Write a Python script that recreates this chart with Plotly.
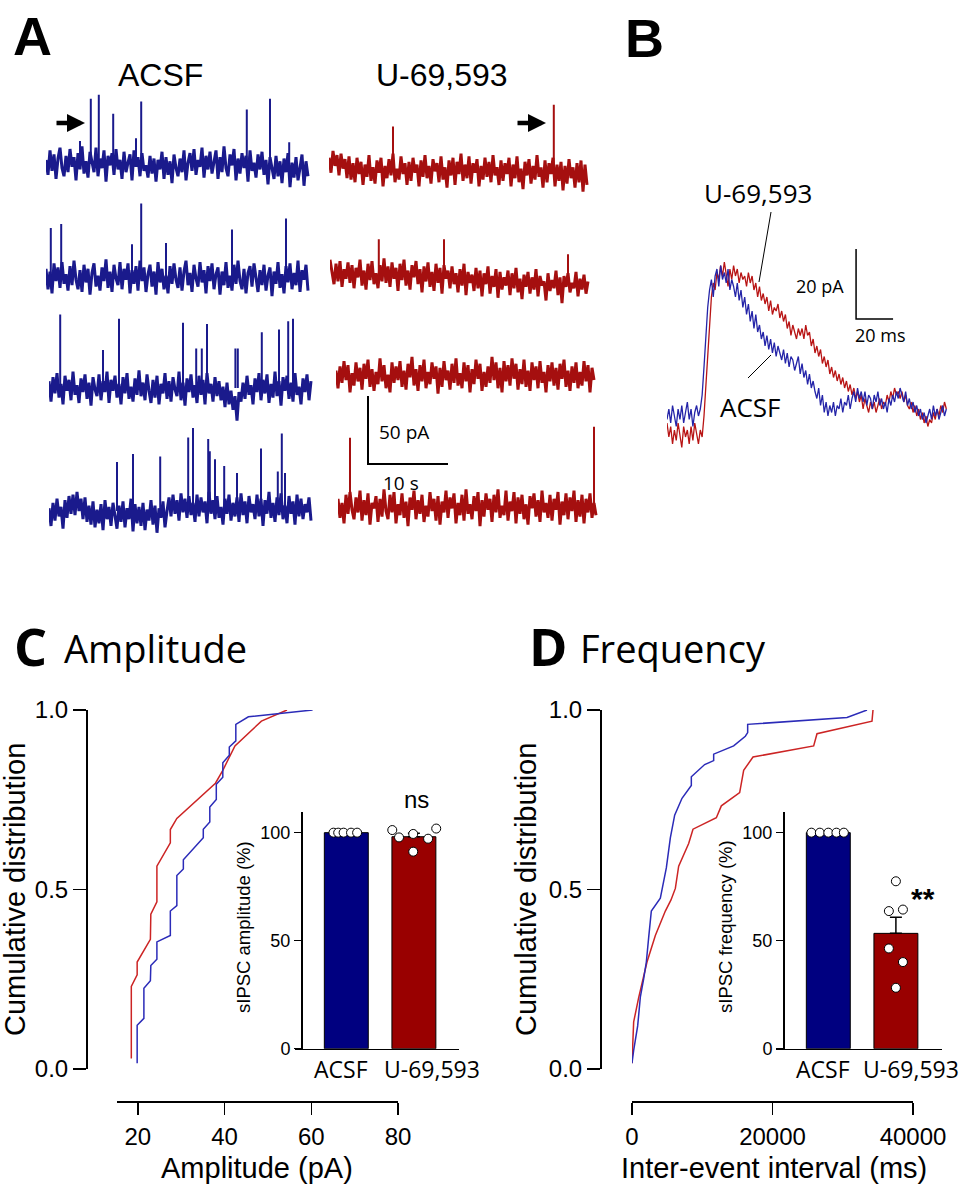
import numpy as np
import plotly.graph_objects as go

# ----------------------------------------------------------------- data
# Panel A: sIPSC recordings (pA), sampled every 0.25 s; spikes = (time s, amplitude pA)
acsf_trace1 = [3,-8,10,-5,7,-11,4,12,-3,-9,6,-6,
               11,-2,5,-12,8,-4,13,-7,2,-10,9,0,
               -6,12,-9,4,-3,10,-13,6,-1,8,-8,11,
               -4,3,-11,9,-6,1,7,-12,10,-2,5,-9,
               8,-5,-1,-10,6,-7,4,-13,3,-4,9,-11,
               5,-8,2,-14,7,-3,-9,4,-6,10,-12,1,
               8,-5,11,-8,3,-2,12,-10,6,-4,9,-7,
               2,10,-11,5,-6,13,-3,-9,7,-1,11,-12,
               4,-7,8,-3,6,-13,10,-5,1,-10,7,-4,
               9,-8,3,-15,5,-2,-11,6,-9,2,-14,4,
               -6,8,-17,1,-10,5,-12,-3,7,-16,2,-9]
acsf_spk1_t = [4.25, 5.6, 6.6, 8.4, 11.25, 11.9, 25.1, 28.0, 30.4]
acsf_spk1_a = [17, 48, 51, 37, 19, 46, 40, 48, 16]

u69_trace1 = [9,-2,14,3,11,-4,12,1,8,-6,
              10,-7,5,-9,9,-3,6,-11,4,-5,
              11,-8,2,-10,7,-2,9,-12,3,-6,
              8,-4,12,-9,1,-7,10,-3,5,-11,
              6,-8,9,-2,4,-12,7,-5,11,-6,
              3,-10,8,-1,5,-9,10,-7,2,-13,
              7,-4,9,-11,6,-3,12,-8,4,-6,
              10,-10,5,-2,8,-12,3,-7,9,-5,
              6,-9,11,-4,2,-11,7,-8,5,-3,
              9,-12,4,-6,10,-9,1,-14,6,-4,
              8,-10,3,-7,11,-5,2,-13,7,-9,
              5,-3,9,-12,4,-8,6,-15,3,-10,
              8,-6,2,-13,5,-9,7,-16,4,-11]
u69_spk1_t = [8.0, 28.1]
u69_spk1_a = [32, 48]

acsf_trace2 = [6,-9,4,-12,10,-3,7,-8,11,-5,2,-10,
               8,-6,12,-2,-9,5,-11,9,-4,6,-13,3,
               10,-7,1,-10,7,-3,13,-8,4,-11,9,-1,
               -6,11,-9,6,-2,10,-12,5,-5,8,-10,12,
               -3,7,-11,2,9,-7,4,-13,11,-4,6,-9,
               1,-12,8,-5,10,-2,-8,7,-10,4,12,-6,
               3,-11,9,-1,-7,11,-4,5,-12,8,-3,10,
               -9,2,7,-13,4,-6,11,-8,1,-10,9,-5,
               12,-3,-9,6,-12,3,8,-7,10,-2,-11,5,
               -6,9,-10,1,7,-14,4,-5,11,-8,2,-12,
               8,-4,10,-9,3,-6,12,-11,5,-2,9,-10]
acsf_spk2_t = [0.6, 1.9, 10.75, 11.9, 15.0, 23.25, 30.0]
acsf_spk2_a = [36, 39, 24, 54, 25, 35, 43]

u69_trace2 = [12,3,-6,9,-4,11,-8,5,-2,10,
              -5,8,-9,6,-1,12,-7,4,-10,9,
              -3,11,-6,2,-9,8,-4,13,-5,7,
              -8,10,-2,6,-11,9,-3,12,-7,4,
              -10,8,-1,11,-6,5,-12,7,-4,10,
              -8,3,-11,9,-5,6,-13,8,-2,4,
              -9,7,-6,2,-12,5,-7,9,-14,3,
              -5,1,-11,6,-9,4,-15,2,-6,7,
              -13,0,-8,5,-16,3,-10,-1,-7,4,
              -14,2,-9,6,-12,-2,-17,1,-8,3,
              -13,-1,-10,5,-15,0,-7,-4,-18,2,
              -11,-3,-9,4,-14,-1,-20,0,-8,2,
              -12,-5,-9,3,-15,-2,-10,1,-13,-4]
u69_spk2_t = [6.1, 14.25, 29.75]
u69_spk2_a = [27, 27, 16]

acsf_trace3 = [5,-10,8,-4,11,-7,3,-12,9,-2,6,-9,
               12,-5,2,-11,7,-3,10,-8,4,-13,8,-1,
               -6,10,-9,5,-3,12,-11,6,-2,9,-7,3,
               -12,8,-4,11,-8,1,-10,7,-5,13,-6,4,
               -9,10,-2,-11,6,-7,9,-12,3,-4,11,-8,
               5,-10,8,-1,-6,12,-9,4,-13,7,-3,10,
               -7,2,-11,9,-5,6,-12,11,-4,3,-10,8,
               -6,5,-9,1,-14,4,-12,-2,-16,-6,-24,-3,
               -10,4,-8,9,-5,2,-12,7,-3,11,-9,6,
               -4,10,-11,3,-7,12,-6,5,-13,8,-2,9,
               -8,4,-10,11,-5,1,-12,7,-3,10,-9,5]
acsf_spk3_t = [1.4, 6.75, 8.75, 16.75, 18.4, 19.1, 19.75, 23.3, 23.6, 26.6, 28.75, 29.9, 30.5]
acsf_spk3_a = [54, 28, 51, 48, 29, 29, 47, 29, 29, 41, 43, 49, 51]

u69_trace3 = [4,-9,7,-5,11,-3,8,-12,2,-7,10,-4,6,
              -10,9,-2,12,-8,5,-11,3,-6,13,-4,8,-9,
              1,-12,10,-5,7,-3,11,-8,4,-10,9,-1,14,-7,
              5,-11,8,-4,12,-9,3,-6,10,-2,7,-13,
              6,-8,11,-3,4,-10,9,-5,13,-7,2,-9,
              10,-4,8,-12,5,-6,12,-2,9,-11,3,-8,
              7,-5,14,-3,10,-9,6,-12,11,-4,8,-7,
              13,-2,9,-10,5,-6,12,-8,4,-11,10,-3,
              7,-9,11,-5,3,-12,8,-4,10,-7,6,-10,
              9,-2,12,-8,4,-11,7,-5,10,-9,3,-7,11,-4,8,-12,6,-3]
u69_spk3_t = []
u69_spk3_a = []

acsf_trace4 = [2,-11,6,-7,9,-4,3,-13,8,-5,11,-2,
               12,-3,14,0,9,-6,10,-8,4,-10,7,-12,
               1,-9,5,-14,8,-6,3,-11,6,-3,-13,4,
               -8,7,-12,2,-6,9,-15,5,-9,3,-11,6,
               -14,1,-7,8,-10,4,-16,2,-5,7,-12,0,
               10,-4,12,-2,8,-7,13,-1,9,-5,11,-3,
               6,-8,12,-4,10,-1,7,-9,14,-2,8,-6,
               11,-5,3,-10,9,-2,12,-7,6,-4,10,-8,
               13,-3,7,-9,11,-1,5,-6,12,-4,9,-11,
               8,-2,14,-5,6,-8,10,-3,13,-6,4,-9,
               11,-2,7,-10,12,-4,9,-6,5,-1,10,-7]
acsf_spk4_t = [8.5, 10.5, 13.9, 17.4, 18.0, 19.9, 20.1, 20.75, 21.9, 23.5, 26.5, 28.6, 29.1, 29.5]
acsf_spk4_a = [36, 42, 40, 54, 61, 53, 44, 38, 33, 28, 46, 29, 57, 28]

u69_trace4 = [6,-8,3,-12,9,-5,11,-2,-9,7,-4,12,-10,
              5,-6,10,-13,3,-1,8,-11,6,-7,13,-3,
              -9,9,-4,11,-12,2,-6,10,-8,4,-14,7,
              -2,12,-9,5,-5,9,-11,1,-7,11,-3,6,
              -10,8,-13,4,-4,12,-8,7,-1,10,-12,3,
              -6,9,-10,13,-5,2,-9,8,-3,11,-14,5,
              -7,10,-2,6,-11,9,-4,13,-8,1,-6,12,
              -10,4,-3,11,-12,7,-5,9,-9,2,-13,8,
              -1,10,-7,5,-11,12,-4,3,-8,9,-10,6,
              -2,11,-13,4,-6,10,-9,7,-3,12,-11,5,
              -7,9,-12,6,-4,10,-8,3,-6]
u69_spk4_t = [1.5, 32.0]
u69_spk4_a = [51, 59]

# Panel B: averaged sIPSC (pA), one sample per ms
avg_acsf = [3,6,2,7,4,1,6,3,7,2,5,8,3,6,1,5,7,4,6,
            10,18,27,35,40,43,38,44,
            46,41,47,43,45,42,46,40,43,
            41,38,42,37,40,35,38,33,36,31,
            34,29,33,28,30,26,28,
            24,27,23,26,22,25,21,24,22,20,23,19,22,
            18,21,20,17,19,21,16,19,15,17,13,16,12,14,11,
            9,12,7,10,5,8,4,7,5,8,4,7,
            6,9,5,8,7,10,6,9,11,8,12,9,11,
            8,11,7,10,9,6,10,8,11,7,9,6,8,5,9,
            7,10,8,11,9,12,10,8,11,7,9,6,8,5,7,
            4,6,3,5,2,4,6,3,7,4,6,3,5,7,4,6]
avg_u69 = [2,-2,1,-4,0,-3,2,-1,-5,1,-2,0,-4,1,-3,2,-1,-4,0,-2,
           4,12,22,31,38,42,40,45,43,
           47,44,48,45,41,46,43,47,44,46,42,45,43,
           44,41,45,42,44,40,42,38,41,37,39,
           36,38,34,37,33,35,34,36,32,34,
           31,33,29,31,27,30,28,26,29,27,
           29,26,30,27,28,24,26,22,24,21,
           23,19,21,18,20,16,18,15,17,14,16,13,15,
           12,14,11,13,10,12,9,11,8,10,6,9,7,5,8,
           6,8,5,7,9,6,8,7,10,8,11,9,12,10,11,
           9,11,8,10,7,6,8,5,7,4,6,3,5,2,4,
           1,3,2,5,3,6,4,7,5,8,6]

# Panel C: cumulative amplitude distributions
amp_acsf_x = [19.85, 19.85, 21.4, 21.4, 22.9, 23.0, 24.4, 24.4, 27.5, 27.5, 29.0, 29.0, 30.5, 30.5,
              35.1, 35.1, 36.6, 36.6, 38.1, 38.1, 39.6, 39.6, 41.1, 41.1, 42.6, 42.6, 45.5, 60.3]
amp_acsf_y = [0.016, 0.122, 0.141, 0.225, 0.246, 0.288, 0.306, 0.354, 0.372, 0.44, 0.455, 0.539, 0.557, 0.583,
              0.644, 0.668, 0.688, 0.73, 0.751, 0.793, 0.813, 0.853, 0.874, 0.897, 0.914, 0.96, 0.981, 1.0]
amp_u69_x = [18.5, 18.5, 19.85, 19.85, 22.9, 23.0, 24.4, 24.4, 27.5, 27.5, 29.0, 37.9, 39.6, 42.4, 48.5, 54.4]
amp_u69_y = [0.029, 0.23, 0.262, 0.298, 0.361, 0.431, 0.466, 0.565, 0.63, 0.667, 0.698, 0.796, 0.832, 0.9, 0.969, 1.0]

# Panel D: cumulative inter-event interval distributions
iei_acsf_x = [0, 237, 807, 1186, 1660, 2040, 2372, 2752, 4033, 4887, 5457, 6074, 7118, 8446, 8446,
              10344, 11625, 11625, 14472, 16133, 16465, 16465, 30605, 33452]
iei_acsf_y = [0.016, 0.052, 0.12, 0.2, 0.251, 0.298, 0.366, 0.44, 0.476, 0.56, 0.644, 0.707, 0.754, 0.79, 0.814,
              0.848, 0.859, 0.877, 0.9, 0.927, 0.937, 0.96, 0.979, 1.0]
iei_u69_x = [0, 237, 949, 1660, 2135, 3322, 4745, 5552, 6169, 6643, 8067, 8683, 12005, 12717, 15326,
             15896, 17225, 25860, 26335, 34164, 34306]
iei_u69_y = [0.016, 0.131, 0.199, 0.257, 0.298, 0.372, 0.44, 0.471, 0.503, 0.565, 0.628, 0.668, 0.7, 0.733, 0.77,
             0.832, 0.869, 0.9, 0.934, 0.969, 1.0]

# Insets: normalised per-cell values (%)
groups = ["ACSF", "U-69,593"]
amp_pct_acsf = [100, 100, 100, 100, 100]
amp_pct_u69 = [101.2, 97.8, 99.4, 91.2, 97.2, 101.9]
freq_pct_acsf = [100, 100, 100, 100, 100]
freq_pct_u69 = [77.5, 63.7, 64.4, 46.4, 40.1, 28.2]

# ----------------------------------------------------------------- styling / geometry
W, H = 964, 1187
ARIAL = "Liberation Sans, Arial, sans-serif"
SANS = "Open Sans, sans-serif"
BLUE_TR, RED_TR = "#1a1a8c", "#a50f0f"
BLUE_B, RED_B = "#2424a8", "#b81414"
BLUE_CD, RED_CD = "#2b2bb8", "#cc2424"
BAR_BLUE, BAR_RED = "#000080", "#990000"


def fx(p):
    return p / W


def fy(p):
    return 1 - p / H


def dx(a, b):
    return [fx(a), fx(b)]


def dy(top, bottom):
    return [fy(bottom), fy(top)]


fig = go.Figure()
axes_layout = {}
count = [0]


def new_axes(xdom, xr, ydom, yr, xopt=None, yopt=None):
    count[0] += 1
    k = "" if count[0] == 1 else str(count[0])
    xa = dict(domain=xdom, range=xr, visible=False, fixedrange=True, anchor="y" + k, automargin=False)
    ya = dict(domain=ydom, range=yr, visible=False, fixedrange=True, anchor="x" + k, automargin=False)
    if xopt:
        xa.update(xopt)
    if yopt:
        ya.update(yopt)
    axes_layout["xaxis" + k] = xa
    axes_layout["yaxis" + k] = ya
    return "x" + k, "y" + k


def line_trace(x, y, color, width, xa, ya):
    fig.add_trace(go.Scatter(x=x, y=y, mode="lines", line=dict(color=color, width=width),
                             xaxis=xa, yaxis=ya, hoverinfo="skip", showlegend=False))


# ----------------------------------------------------------------- panel A
DT = 0.25
PX_S, PX_PA = 8.0, 1.36
rows = [
    (acsf_trace1, acsf_spk1_t, acsf_spk1_a, BLUE_TR, 46, 164),
    (u69_trace1, u69_spk1_t, u69_spk1_a, RED_TR, 329, 170),
    (acsf_trace2, acsf_spk2_t, acsf_spk2_a, BLUE_TR, 46, 277),
    (u69_trace2, u69_spk2_t, u69_spk2_a, RED_TR, 330, 276),
    (acsf_trace3, acsf_spk3_t, acsf_spk3_a, BLUE_TR, 49, 388),
    (u69_trace3, u69_spk3_t, u69_spk3_a, RED_TR, 336, 376),
    (acsf_trace4, acsf_spk4_t, acsf_spk4_a, BLUE_TR, 49, 511),
    (u69_trace4, u69_spk4_t, u69_spk4_a, RED_TR, 338, 507),
]
for noise, st, sa, col, x0, c in rows:
    xa, ya = new_axes(dx(x0, x0 + 34 * PX_S), [0, 34], dy(c - 70 * PX_PA, c + 30 * PX_PA), [-30, 70])
    t = np.arange(len(noise)) * DT
    line_trace(t, noise, col, 3.0, xa, ya)
    if st:
        sx, sy = [], []
        for tt, aa in zip(st, sa):
            sx += [tt, tt, None]
            sy += [0, aa, None]
        line_trace(sx, sy, col, 2.0, xa, ya)

# scale bar A (10 s, 50 pA)
xa, ya = new_axes(dx(368 - PX_S, 448 + PX_S), [-1, 11], dy(396 - 5 * PX_PA, 464 + 5 * PX_PA), [-5, 55])
line_trace([0, 0, 10], [50, 0, 0], "black", 2, xa, ya)

# ----------------------------------------------------------------- panel B
PX_MS, PX_PA_B = 1.85, 3.5
B_X0, B_X1, B_ZERO, B_TOP, B_BOT = 667, 948, 430, 240, 450
xa, ya = new_axes(dx(B_X0, B_X1), [0, (B_X1 - B_X0) / PX_MS], dy(B_TOP, B_BOT),
                  [(B_ZERO - B_BOT) / PX_PA_B, (B_ZERO - B_TOP) / PX_PA_B])
line_trace(np.arange(len(avg_u69)) * 1.0, avg_u69, RED_B, 1.3, xa, ya)
line_trace(np.arange(len(avg_acsf)) * 1.0, avg_acsf, BLUE_B, 1.3, xa, ya)
SB_T0, SB_Y0 = 102.2, 31.7
line_trace([SB_T0, SB_T0, SB_T0 + 20], [SB_Y0 + 20, SB_Y0, SB_Y0], "black", 1.5, xa, ya)

# ----------------------------------------------------------------- panels C & D main
ax_style = dict(visible=True, showline=True, linecolor="black", linewidth=1.5, ticks="outside",
                tickcolor="black", tickwidth=1.5, showgrid=False, zeroline=False, tickangle=0,
                tickfont=dict(family=ARIAL, size=24, color="black"))

xa, ya = new_axes(dx(117, 398), [15.2, 80], dy(710, 1069), [0, 1],
                  xopt=dict(ax_style, anchor="free", position=fy(1101), tickvals=[20, 40, 60, 80],
                            ticklen=12, ticklabelstandoff=2),
                  yopt=dict(ax_style, anchor="free", position=fx(86), tickvals=[0, 0.5, 1],
                            tickformat=".1f", ticklen=13))
line_trace(amp_u69_x, amp_u69_y, RED_CD, 1.5, xa, ya)
line_trace(amp_acsf_x, amp_acsf_y, BLUE_CD, 1.5, xa, ya)

xa, ya = new_axes(dx(632, 913), [0, 40000], dy(710, 1069), [0, 1],
                  xopt=dict(ax_style, anchor="free", position=fy(1101), tickvals=[0, 20000, 40000],
                            ticktext=["0", "20000", "40000"], ticklen=12, ticklabelstandoff=2),
                  yopt=dict(ax_style, anchor="free", position=fx(600), tickvals=[0, 0.5, 1],
                            tickformat=".1f", ticklen=13))
line_trace(iei_u69_x, iei_u69_y, RED_CD, 1.5, xa, ya)
line_trace(iei_acsf_x, iei_acsf_y, BLUE_CD, 1.5, xa, ya)

# ----------------------------------------------------------------- insets
BAR_W = 0.65
JIT_ACSF_C = [-0.19, -0.12, -0.04, 0.07, 0.16]
JIT_U69_C = [-0.32, -0.22, -0.01, -0.01, 0.21, 0.33]
JIT_ACSF_D = [-0.25, -0.125, 0.0, 0.12, 0.23]
JIT_U69_D = [0.0, -0.104, 0.104, -0.104, 0.104, 0.0]


def inset(x_left, y_axis_x, x_right, vals_a, vals_u, jit_a, jit_u):
    c0 = y_axis_x + 45.3
    unit = 67.6
    xr = [-(c0 - x_left) / unit, (x_right - c0) / unit]
    xa, ya = new_axes(dx(x_left, x_right), xr, dy(811.7, 1048.7), [0, 109.7],
                      xopt=dict(ax_style, ticks="", tickvals=[0, 1], showticklabels=False),
                      yopt=dict(ax_style, anchor="free", position=fx(y_axis_x), tickvals=[0, 50, 100],
                                ticklen=7, tickfont=dict(family=ARIAL, size=18, color="black")))
    means = [np.mean(vals_a), np.mean(vals_u)]
    sem_u = np.std(vals_u, ddof=1) / np.sqrt(len(vals_u))
    fig.add_trace(go.Bar(x=[0, 1], y=means, width=BAR_W,
                         marker=dict(color=[BAR_BLUE, BAR_RED], line=dict(color="black", width=1)),
                         xaxis=xa, yaxis=ya, hoverinfo="skip", showlegend=False))
    fig.add_trace(go.Scatter(x=[1], y=[means[1]], mode="lines",
                             error_y=dict(type="data", array=[sem_u], arrayminus=[0], symmetric=False,
                                          color="black", thickness=1.5, width=6),
                             xaxis=xa, yaxis=ya, hoverinfo="skip", showlegend=False))
    dxs = [0 + j for j in jit_a] + [1 + j for j in jit_u]
    fig.add_trace(go.Scatter(x=dxs, y=list(vals_a) + list(vals_u), mode="markers",
                             marker=dict(size=9, color="white", line=dict(color="black", width=1)),
                             cliponaxis=False, xaxis=xa, yaxis=ya, hoverinfo="skip", showlegend=False))


inset(295, 301, 459, amp_pct_acsf, amp_pct_u69, JIT_ACSF_C, JIT_U69_C)
inset(776, 783, 942, freq_pct_acsf, freq_pct_u69, JIT_ACSF_D, JIT_U69_D)

# ----------------------------------------------------------------- text
annotations = []


def ann(text, x, y, size, family=ARIAL, angle=0, xanchor="center", yanchor="middle"):
    annotations.append(dict(text=text, x=fx(x), y=fy(y), xref="paper", yref="paper", showarrow=False,
                            font=dict(size=size, family=family, color="black"), textangle=angle,
                            xanchor=xanchor, yanchor=yanchor))


ann("<b>A</b>", 32, 36, 54)
ann("ACSF", 160, 75, 32)
ann("U-69,593", 442, 75, 32)
ann("50 pA", 404, 432, 19, SANS)
ann("10 s", 401, 483, 19, SANS)
ann("<b>B</b>", 644, 38, 54)
ann("U-69,593", 758, 193, 26, SANS)
ann("ACSF", 750, 407, 26, SANS)
ann("20 pA", 820, 286, 18, SANS)
ann("20 ms", 880, 335, 18, SANS)
ann("<b>C</b>", 30, 645, 52, SANS)
ann("Amplitude", 62, 648, 38, SANS, xanchor="left")
ann("<b>D</b>", 548, 645, 52, SANS)
ann("Frequency", 578, 648, 38, SANS, xanchor="left")
ann("Cumulative distribution", 15, 890, 29, angle=-90)
ann("Cumulative distribution", 526, 890, 29, angle=-90)
ann("Amplitude (pA)", 257, 1168, 29)
ann("Inter-event interval (ms)", 774, 1168, 29)
ann("sIPSC amplitude (%)", 243, 927, 18.5, angle=-90)
ann("sIPSC frequency (%)", 725, 927, 18.5, angle=-90)
ann("ns", 416, 799, 24)
ann("<b>**</b>", 923, 898, 30)
for gx, gname in zip((340.5, 432), groups):
    ann(gname, gx, 1069, 23, SANS)
for gx, gname in zip((822.5, 911), groups):
    ann(gname, gx, 1069, 23, SANS)

for hx in (85, 546):
    annotations.append(dict(text="", x=fx(hx), y=fy(123), xref="paper", yref="paper", showarrow=True,
                            ax=-30, ay=0, arrowhead=2, arrowsize=0.8, arrowwidth=4.5,
                            arrowcolor="black", standoff=0))

shapes = [
    dict(type="line", xref="paper", yref="paper", x0=fx(771), y0=fy(212), x1=fx(759), y1=fy(282),
         line=dict(color="black", width=1)),
    dict(type="line", xref="paper", yref="paper", x0=fx(748), y0=fy(378), x1=fx(771), y1=fy(355),
         line=dict(color="black", width=1)),
]

fig.update_layout(template="none", width=W, height=H, margin=dict(l=0, r=0, t=0, b=0, autoexpand=False),
                  paper_bgcolor="white", plot_bgcolor="rgba(0,0,0,0)", showlegend=False,
                  annotations=annotations, shapes=shapes, **axes_layout)
fig.write_html("out.html", config={"displayModeBar": False, "staticPlot": True},
               post_script="document.body.style.margin='0px';document.body.style.overflow='hidden';")
